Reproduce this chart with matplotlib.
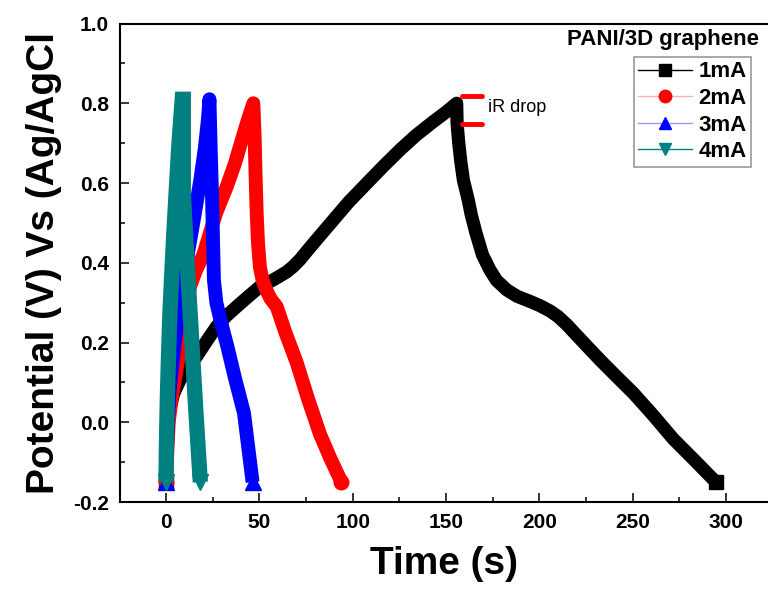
import matplotlib
matplotlib.use("Agg")
import matplotlib.pyplot as plt
from matplotlib.lines import Line2D
from matplotlib.ticker import MultipleLocator, FormatStrFormatter

plt.rcParams['font.family'] = ['Liberation Sans', 'DejaVu Sans']
plt.rcParams['axes.unicode_minus'] = False

# galvanostatic charge/discharge curves, PANI/3D graphene
t_1mA = [0, 0.5, 1, 2, 4, 7.5, 12, 16.4, 22, 27.1, 32, 37.9, 44, 50.3, 57, 60,
         64.6, 68, 71.8, 76, 82.5, 89.6, 98, 107.5, 116, 125.3, 134, 143.2, 150,
         155.7,
         155.9, 156.8, 158, 159.3, 161.9, 163.5, 166, 169.5, 173.5, 177, 182.5,
         188, 195, 200, 205.7, 210, 214.6, 223, 232.5, 241, 250.3, 261, 271.7,
         283, 294.5]
v_1mA = [-0.15, -0.08, -0.02, 0.03, 0.07, 0.106, 0.14, 0.165, 0.205, 0.24, 0.265,
         0.29, 0.315, 0.34, 0.356, 0.364, 0.377, 0.39, 0.408, 0.432, 0.468,
         0.507, 0.553, 0.599, 0.64, 0.683, 0.72, 0.754, 0.778, 0.80,
         0.75, 0.70, 0.65, 0.607, 0.557, 0.52, 0.475, 0.42, 0.382, 0.356, 0.332,
         0.316, 0.303, 0.293, 0.279, 0.265, 0.245, 0.203, 0.156, 0.116, 0.073,
         0.017, -0.042, -0.095, -0.15]

t_2mA = [0, 0.5, 1.5, 3, 4.8, 8, 10, 12.9, 16, 20, 26.8, 32.5, 37, 41.4, 44, 46.8,
         47.5, 48, 48.6, 49.3, 50.3, 51.8, 53.9, 56, 59.3, 64, 70, 76, 82.5, 88, 94]
v_2mA = [-0.15, -0.1, 0.0, 0.06, 0.106, 0.2, 0.27, 0.34, 0.38, 0.42, 0.524, 0.59,
         0.65, 0.72, 0.76, 0.80,
         0.716, 0.62, 0.524, 0.45, 0.39, 0.355, 0.33, 0.31, 0.29, 0.225, 0.15,
         0.06, -0.03, -0.09, -0.15]

t_3mA = [0, 0.3, 1, 2, 3.5, 6, 9.3, 12, 15.5, 18.5, 20.9, 22.5, 23.3,
         24, 24.5, 25, 25.7, 27, 29, 32.9, 37, 41.8, 44, 46.4]
v_3mA = [-0.15, -0.1, 0.0, 0.08, 0.15, 0.25, 0.34, 0.43, 0.524, 0.61, 0.69, 0.76,
         0.81, 0.68, 0.6, 0.5, 0.357, 0.3, 0.26, 0.19, 0.11, 0.023, -0.06, -0.15]

t_4mA = [0, 0.2, 0.4, 0.8, 1.4, 2.1, 3.2, 4.3, 5.5, 7, 8.7, 9.3,
         9.3, 10.5, 12, 14, 16, 18.4]
v_4mA = [-0.15, -0.08, -0.02, 0.07, 0.17, 0.27, 0.38, 0.48, 0.58, 0.70, 0.81, 0.81,
         0.575, 0.47, 0.35, 0.19, 0.03, -0.15]

labels = ['1mA', '2mA', '3mA', '4mA']
colors = ['black', 'red', 'blue', '#008080']
legend_line_colors = ['black', '#ffb0b0', '#9a9aff', '#008080']
markers = ['s', 'o', '^', 'v']

ir_drop_t = [158.5, 169.5]
ir_drop_v = [0.817, 0.749]

fig = plt.figure(figsize=(7.68, 5.98), dpi=100)
ax = fig.add_axes([0.15625, 0.1605, 0.84375, 0.8002])

series = [(t_1mA, v_1mA), (t_2mA, v_2mA), (t_3mA, v_3mA), (t_4mA, v_4mA)]
widths = [9.5, 10, 10, 11]
msizes = [9.5, 10.5, 11, 12]
joins = ['round', 'round', 'round', 'miter']
for (t, v), c, m, lw, ms, js in zip(series, colors, markers, widths, msizes, joins):
    ax.plot(t, v, color=c, lw=lw, solid_capstyle='butt', solid_joinstyle=js,
            marker=m, markersize=ms, markevery=[0, len(t) - 1], mec=c, mfc=c)

# iR drop marks
for v in ir_drop_v:
    ax.plot(ir_drop_t, [v, v], color='red', lw=3.5, solid_capstyle='round')
ax.text(172.5, 0.79, 'iR drop', fontsize=13, va='center', ha='left')

ax.set_xlim(-24.6, 322.4)
ax.set_ylim(-0.2, 1.0)
ax.xaxis.set_major_locator(MultipleLocator(50))
ax.xaxis.set_minor_locator(MultipleLocator(25))
ax.yaxis.set_major_locator(MultipleLocator(0.2))
ax.yaxis.set_minor_locator(MultipleLocator(0.1))
ax.yaxis.set_major_formatter(FormatStrFormatter('%.1f'))
ax.tick_params(which='both', direction='in', width=1.1, top=False, right=False)
ax.tick_params(which='major', length=6.5, labelsize=15)
ax.tick_params(which='minor', length=3.6)
ax.tick_params(axis='x', pad=8)
ax.tick_params(axis='y', pad=8)
for lab in ax.get_xticklabels() + ax.get_yticklabels():
    lab.set_fontweight('bold')
for s in ['left', 'bottom', 'top']:
    ax.spines[s].set_linewidth(1.5)
ax.spines['right'].set_visible(False)

ax.set_xlabel('Time (s)', fontsize=28, fontweight='bold', labelpad=10)
ax.set_ylabel('Potential (V) Vs (Ag/AgCl', fontsize=28, fontweight='bold', labelpad=8)

handles = [Line2D([], [], color=lc, lw=1, marker=m, markersize=9, mfc=c, mec=c)
           for lc, c, m in zip(legend_line_colors, colors, markers)]
leg = fig.legend(handles, labels, loc='upper right',
                 bbox_to_anchor=(751 / 768, 1 - 57 / 598), borderaxespad=0,
                 prop={'size': 16, 'weight': 'bold'}, frameon=True, fancybox=False,
                 handlelength=2.4, handletextpad=0.3, labelspacing=0.25,
                 borderpad=0.2)
leg.get_frame().set_edgecolor('#808080')
leg.get_frame().set_linewidth(1.2)

fig.text(759 / 768, 1 - 39 / 598, 'PANI/3D graphene', fontsize=16,
         fontweight='bold', ha='right', va='center')

fig.savefig('out.png', dpi=100)
